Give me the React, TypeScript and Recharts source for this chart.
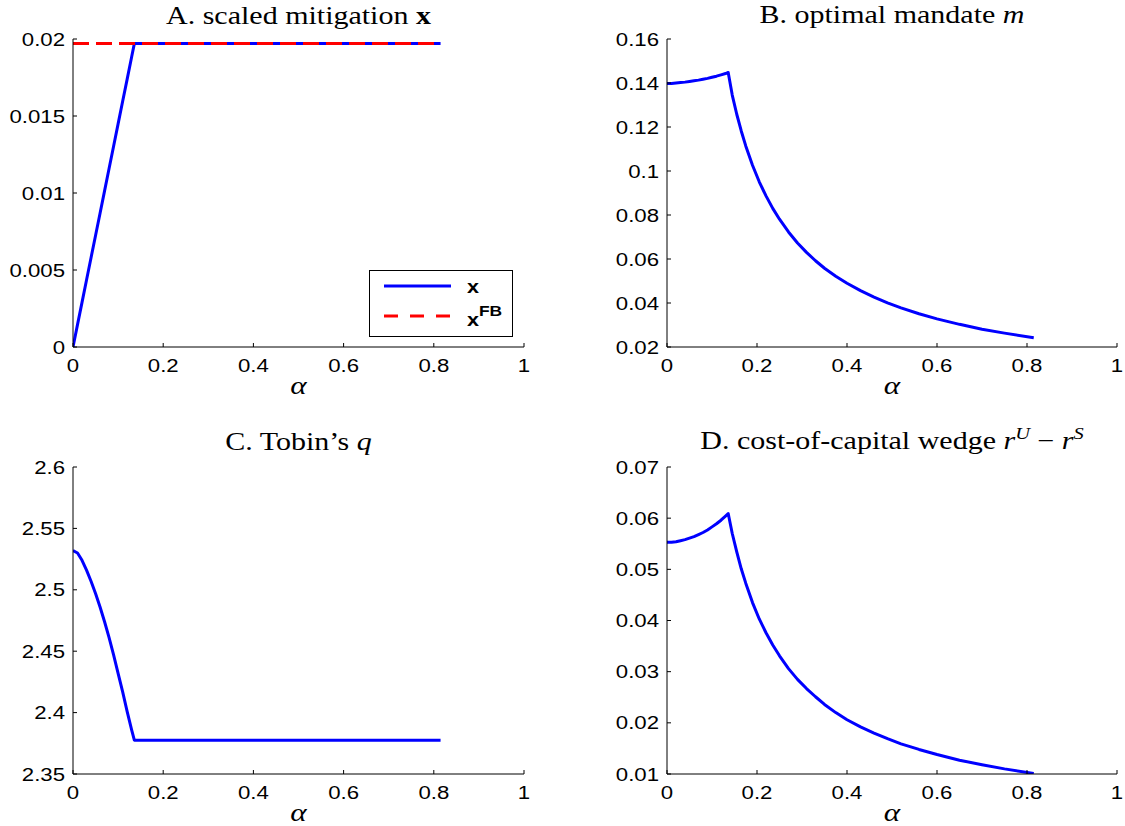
import React from 'react';
import { LineChart, Line, XAxis, YAxis } from 'recharts';

// ---- data ----
const alpha = [0, 0.01, 0.02, 0.03, 0.04, 0.05, 0.06, 0.07, 0.08, 0.09, 0.1, 0.11, 0.12, 0.13, 0.136,
  0.145, 0.155, 0.165, 0.175, 0.19, 0.205, 0.22, 0.235, 0.25, 0.27, 0.29, 0.31, 0.33, 0.35, 0.375, 0.4,
  0.43, 0.46, 0.49, 0.52, 0.56, 0.6, 0.65, 0.7, 0.75, 0.815];
const mitigationX = [0, 0.00145, 0.0029, 0.00435, 0.0058, 0.00724, 0.00869, 0.01014, 0.01159, 0.01304, 0.01449, 0.01594, 0.01738, 0.01883, 0.0197,
  0.0197, 0.0197, 0.0197, 0.0197, 0.0197, 0.0197, 0.0197, 0.0197, 0.0197, 0.0197, 0.0197, 0.0197, 0.0197, 0.0197, 0.0197, 0.0197,
  0.0197, 0.0197, 0.0197, 0.0197, 0.0197, 0.0197, 0.0197, 0.0197, 0.0197, 0.0197];
const mitigationXFB = [0.0197, 0.0197, 0.0197, 0.0197, 0.0197, 0.0197, 0.0197, 0.0197, 0.0197, 0.0197, 0.0197, 0.0197, 0.0197, 0.0197, 0.0197,
  0.0197, 0.0197, 0.0197, 0.0197, 0.0197, 0.0197, 0.0197, 0.0197, 0.0197, 0.0197, 0.0197, 0.0197, 0.0197, 0.0197, 0.0197, 0.0197,
  0.0197, 0.0197, 0.0197, 0.0197, 0.0197, 0.0197, 0.0197, 0.0197, 0.0197, 0.0197];
const mandateM = [0.1398, 0.1398, 0.14, 0.1402, 0.1404, 0.1407, 0.141, 0.1413, 0.1417, 0.1421, 0.1426, 0.1431, 0.1437, 0.1443, 0.1448,
  0.1345, 0.1258, 0.1182, 0.1114, 0.1026, 0.0951, 0.0887, 0.083, 0.0781, 0.0723, 0.0673, 0.063, 0.0592, 0.0558, 0.0522, 0.049,
  0.0456, 0.0427, 0.0401, 0.0378, 0.0351, 0.0328, 0.0303, 0.0281, 0.0263, 0.0242];
const tobinQ = [2.532, 2.53, 2.524, 2.516, 2.507, 2.497, 2.486, 2.474, 2.461, 2.447, 2.432, 2.417, 2.401, 2.386, 2.3775,
  2.3775, 2.3775, 2.3775, 2.3775, 2.3775, 2.3775, 2.3775, 2.3775, 2.3775, 2.3775, 2.3775, 2.3775, 2.3775, 2.3775, 2.3775, 2.3775,
  2.3775, 2.3775, 2.3775, 2.3775, 2.3775, 2.3775, 2.3775, 2.3775, 2.3775, 2.3775];
const wedge = [0.0553, 0.0553, 0.0554, 0.0556, 0.0558, 0.0561, 0.0564, 0.0568, 0.0572, 0.0577, 0.0583, 0.0589, 0.0596, 0.0604, 0.0609,
  0.057, 0.0534, 0.0501, 0.0473, 0.0435, 0.0403, 0.0376, 0.0352, 0.0331, 0.0306, 0.0285, 0.0267, 0.0251, 0.0236, 0.022, 0.0206,
  0.0192, 0.018, 0.0169, 0.0159, 0.0148, 0.0138, 0.0127, 0.0118, 0.011, 0.0101];

const alphaTicks = [0, 0.2, 0.4, 0.6, 0.8, 1];
const ticksA = [0, 0.005, 0.01, 0.015, 0.02];
const ticksB = [0.02, 0.04, 0.06, 0.08, 0.1, 0.12, 0.14, 0.16];
const ticksC = [2.35, 2.4, 2.45, 2.5, 2.55, 2.6];
const ticksD = [0.01, 0.02, 0.03, 0.04, 0.05, 0.06, 0.07];

const dataA = alpha.map((a, i) => ({ alpha: a, x: mitigationX[i], xfb: mitigationXFB[i] }));
const dataB = alpha.map((a, i) => ({ alpha: a, m: mandateM[i] }));
const dataC = alpha.map((a, i) => ({ alpha: a, q: tobinQ[i] }));
const dataD = alpha.map((a, i) => ({ alpha: a, w: wedge[i] }));

const SANS = '"Liberation Sans", Arial, Helvetica, sans-serif';
const SERIF = '"Liberation Serif", "Times New Roman", serif';
const SX = 1.2;
const BLUE = '#0000ff';
const RED = '#ff0000';
const TICK = 4;
const LW = 3;

const fmt = (v: number) => String(parseFloat(Number(v).toFixed(5)));

const BottomTick = (p: any) => (
  <g>
    <line x1={p.x} y1={p.y} x2={p.x} y2={p.y - TICK} stroke="#000" strokeWidth={1} />
    <text transform={`translate(${p.x},${p.y + 25}) scale(${SX},1)`} textAnchor="middle" fontFamily={SANS} fontSize={18.5} fill="#000">
      {fmt(p.payload.value)}
    </text>
  </g>
);
const TopTick = (p: any) => (
  <line x1={p.x} y1={p.y} x2={p.x} y2={p.y + TICK} stroke="#000" strokeWidth={1} />
);
const LeftTick = (p: any) => (
  <g>
    <line x1={p.x} y1={p.y} x2={p.x + TICK} y2={p.y} stroke="#000" strokeWidth={1} />
    <text transform={`translate(${p.x - 8},${p.y + 6.5}) scale(${SX},1)`} textAnchor="end" fontFamily={SANS} fontSize={18.5} fill="#000">
      {fmt(p.payload.value)}
    </text>
  </g>
);
const RightTick = (p: any) => (
  <line x1={p.x} y1={p.y} x2={p.x - TICK} y2={p.y} stroke="#000" strokeWidth={1} />
);

type LineSpec = { key: string; color: string; dash?: string };

function Panel(props: {
  left: number; top: number; width: number; height: number;
  box: [number, number, number, number];
  data: any[]; lines: LineSpec[]; yDomain: [number, number]; yTicks: number[];
}) {
  const { left, top, width, height, box, data, lines, yDomain, yTicks } = props;
  const [pl, pt, pr, pb] = box;
  return (
    <div style={{ position: 'absolute', left, top, width, height }}>
      <LineChart width={width} height={height} data={data} margin={{ top: pt, right: width - pr, bottom: 0, left: 0 }}>
        <XAxis xAxisId="b" dataKey="alpha" type="number" domain={[0, 1]} ticks={alphaTicks} interval={0} orientation="bottom"
          height={height - pb} tickSize={0} tickMargin={0} tickLine={false} axisLine={{ stroke: '#000', strokeWidth: 1 }}
          tick={(p: any) => <BottomTick {...p} />} allowDataOverflow />
        <XAxis xAxisId="t" dataKey="alpha" type="number" domain={[0, 1]} ticks={alphaTicks} interval={0} orientation="top"
          height={0} tickSize={0} tickMargin={0} tickLine={false} axisLine={{ stroke: '#000', strokeWidth: 1 }}
          tick={(p: any) => <TopTick {...p} />} allowDataOverflow />
        <YAxis yAxisId="l" type="number" domain={yDomain} ticks={yTicks} interval={0} orientation="left"
          width={pl} tickSize={0} tickMargin={0} tickLine={false} axisLine={{ stroke: '#000', strokeWidth: 1 }}
          tick={(p: any) => <LeftTick {...p} />} allowDataOverflow />
        <YAxis yAxisId="r" type="number" domain={yDomain} ticks={yTicks} interval={0} orientation="right"
          width={0} tickSize={0} tickMargin={0} tickLine={false} axisLine={{ stroke: '#000', strokeWidth: 1 }}
          tick={(p: any) => <RightTick {...p} />} allowDataOverflow />
        {lines.map((l) => (
          <Line key={l.key} xAxisId="b" yAxisId="l" type="linear" dataKey={l.key} stroke={l.color} strokeWidth={LW}
            strokeDasharray={l.dash} strokeLinejoin="round" dot={false} activeDot={false} isAnimationActive={false} />
        ))}
      </LineChart>
    </div>
  );
}

const titleProps = (cx: number, y: number) => ({
  transform: `translate(${cx},${y}) scale(${SX},1)`,
  textAnchor: 'middle' as const,
  fontFamily: SERIF,
  fontSize: 25,
  fill: '#000',
});

const alphaLabel = (cx: number, y: number) => (
  <text transform={`translate(${cx},${y}) scale(${SX},1)`} textAnchor="middle" fontFamily={SERIF} fontStyle="italic" fontSize={26} fill="#000">α</text>
);

export default function App() {
  return (
    <div style={{ position: 'absolute', left: 0, top: 0, width: 1125, height: 826, background: '#fff' }}>
      <Panel left={0} top={0} width={562} height={410} box={[73, 39, 524, 347]} data={dataA}
        lines={[{ key: 'x', color: BLUE }, { key: 'xfb', color: RED, dash: '16 7' }]} yDomain={[0, 0.02]} yTicks={ticksA} />
      <Panel left={562} top={0} width={563} height={410} box={[105, 39, 555, 347]} data={dataB}
        lines={[{ key: 'm', color: BLUE }]} yDomain={[0.02, 0.16]} yTicks={ticksB} />
      <Panel left={0} top={410} width={562} height={416} box={[73, 57, 524, 364]} data={dataC}
        lines={[{ key: 'q', color: BLUE }]} yDomain={[2.35, 2.6]} yTicks={ticksC} />
      <Panel left={562} top={410} width={563} height={416} box={[105, 57, 555, 364]} data={dataD}
        lines={[{ key: 'w', color: BLUE }]} yDomain={[0.01, 0.07]} yTicks={ticksD} />

      <svg width={1125} height={826} style={{ position: 'absolute', left: 0, top: 0, pointerEvents: 'none' }}>
        <text {...titleProps(298.5, 24)}>A. scaled mitigation <tspan fontWeight="bold">x</tspan></text>
        <text {...titleProps(892, 23)}>B. optimal mandate <tspan fontStyle="italic">m</tspan></text>
        <text {...titleProps(298.5, 450)}>C. Tobin’s <tspan fontStyle="italic">q</tspan></text>
        <text {...titleProps(892, 449)}>
          D. cost-of-capital wedge <tspan fontStyle="italic">r</tspan>
          <tspan fontStyle="italic" fontSize={17} dy={-10}>U</tspan>
          <tspan dy={10}> − </tspan>
          <tspan fontStyle="italic">r</tspan>
          <tspan fontStyle="italic" fontSize={17} dy={-10}>S</tspan>
        </text>

        {alphaLabel(298.5, 394)}
        {alphaLabel(892, 394)}
        {alphaLabel(298.5, 821)}
        {alphaLabel(892, 821)}

        <rect x={369.5} y={270.5} width={143} height={66} fill="#fff" stroke="#000" strokeWidth={1} />
        <line x1={384} y1={286} x2={451} y2={286} stroke={BLUE} strokeWidth={LW} />
        <line x1={384} y1={316} x2={451} y2={316} stroke={RED} strokeWidth={LW} strokeDasharray="14 12" />
        <text transform={`translate(467,293) scale(${SX},1)`} fontFamily={SANS} fontWeight="bold" fontSize={18} fill="#000">x</text>
        <text transform={`translate(467,326) scale(${SX},1)`} fontFamily={SANS} fontWeight="bold" fontSize={18} fill="#000">x</text>
        <text transform={`translate(479,316) scale(${SX},1)`} fontFamily={SANS} fontWeight="bold" fontSize={14.5} fill="#000">FB</text>
      </svg>
    </div>
  );
}
